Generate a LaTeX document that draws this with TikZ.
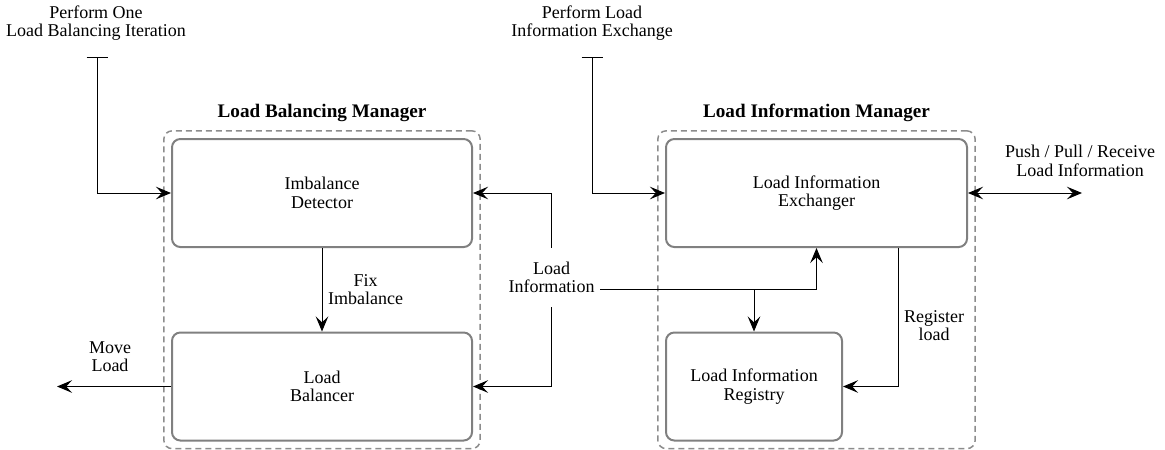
\documentclass[tikz,border=0pt]{standalone}
\usepackage{fontspec}
\setmainfont{Liberation Serif}
\usetikzlibrary{arrows.meta,fit,positioning}
\colorlet{boxgray}{black!50}
\colorlet{dashgray}{black!45}

\begin{document}
\begin{tikzpicture}[x=0.6pt,y=-0.6pt,
    >={Stealth[length=9pt,width=7.5pt,inset=3.5pt]},
    every node/.style={font=\fontsize{10.8}{11}\selectfont, align=center},
    block/.style={draw=boxgray, line width=1.2pt, rounded corners=5pt, minimum height=64.8pt},
    group/.style={draw=dashgray, dash pattern=on 3.6pt off 2.4pt, line width=0.9pt, rounded corners=5pt, inner sep=4.3pt},
    title/.style={font=\fontsize{11.5}{12}\selectfont\bfseries},
    conn/.style={line width=0.6pt}]
            \useasboundingbox (0,0) rectangle (1165,449);

            % components
            \node[block, minimum width=180pt] (det) at (322,193) {Imbalance\\Detector};
            \node[block, minimum width=180pt] (bal) at (322,386.5) {Load\\Balancer};
            \node[block, minimum width=180.6pt] (exch) at (816.5,193) {Load Information\\Exchanger};
            \node[block, minimum width=105.6pt] (reg) at (754,386.5) {Load Information\\Registry};

            % managers
            \node[group, fit=(det)(bal)] (lbm) {};
            \node[group, fit=(exch)(reg)] (lim) {};
            \node[title, above=1.5pt of lbm] (lbmtitle) {Load Balancing Manager};
            \node[title, above=1.5pt of lim] (limtitle) {Load Information Manager};

            % triggers
            \node (lbcall) at (96,23) {Perform One\\Load Balancing Iteration};
            \node (liecall) at (592,23) {Perform Load\\Information Exchange};
            \coordinate (lbbar) at (97,57);
            \coordinate (liebar) at (592,57);
            \draw [conn,{Bar[width=12.6pt]}->] (lbbar) |- (det.west);
            \draw [conn,{Bar[width=12.6pt]}->] (liebar) |- (exch.west);

            \draw [conn,->] (det) -- node[right]{Fix\\Imbalance} (bal);

            \node (movelbl) at (110,357) {Move\\Load};
            \coordinate (moveend) at (57,386.5);
            \draw [conn,->] (bal.west) -- (moveend);

            \node (pushlbl) at (1080,161) {Push / Pull / Receive\\Load Information};
            \coordinate (pushend) at (1082,193);
            \draw [conn,<->] (exch.east) -- (pushend);

            % load information
            \node[minimum width=58.2pt, minimum height=35.4pt, inner sep=0pt] (info) at (551.5,277.5) {Load\\Information};
            \coordinate (infoout) at ([yshift=-7pt]info.east);
            \draw [conn,->] (info.north) |- (det.east);
            \draw [conn,->] (info.south) |- (bal.east);
            \draw [conn,->] (infoout) -| (exch.south);
            \draw [conn,->] (infoout -| reg.north) -- (reg.north);

            \draw [conn,->] ([xshift=-42pt]exch.south east) |- node[pos=0.28,right]{Register\\load} (reg.east);
        \end{tikzpicture}
\end{document}
